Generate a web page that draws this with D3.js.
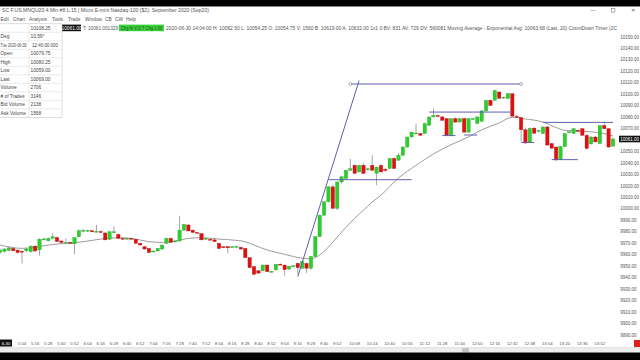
<!DOCTYPE html>
<html>
<head>
<meta charset="utf-8">
<script src="https://cdn.jsdelivr.net/npm/d3@7/dist/d3.min.js"></script>
<style>
    html, body { margin: 0; padding: 0; background: #fff; overflow: hidden; }
    svg { display: block; }
</style>
</head>
<body>
<div id="chart"></div>
<script>
// 4 minute bars, first bar of the window at 4:40
const barStart = '4:40';
const barMinutes = 4;

const opens = [
    9963, 9962, 9963, 9964, 9965.5, 9964, 9963, 9963.5, 9962.75, 9967.5,
    9964.25, 9973.5, 9972.25, 9974.25, 9975, 9972, 9970.5, 9970.75, 9969.5, 9975.75,
    9981, 9981, 9981, 9980, 9980.25, 9979, 9973.5, 9979.5, 9977.75, 9974.25,
    9974, 9974.25, 9973.5, 9970, 9967, 9965.5, 9963, 9963.25, 9965, 9970,
    9974.25, 9971.5, 9972, 9981.5, 9986, 9981.5, 9979.5, 9978.5, 9973.5, 9973.5,
    9973, 9970, 9967, 9967, 9966.5, 9967, 9966.5, 9965.5, 9957.5, 9949.75,
    9946, 9946, 9951, 9945.25, 9946.75, 9951.75, 9951, 9947.5, 9950, 9952.5,
    9948.25, 9952.5, 9948.25, 9958.5, 9975.75, 9994.5, 10006.25, 10019.25, 10000.5, 10023.5,
    10026.5, 10033.75, 10038, 10032.25, 10038, 10034.5, 10038, 10031, 10038, 10034.5,
    10035.25, 10044, 10042.5, 10046.75, 10054, 10062.75, 10065.75, 10065.75, 10065.75, 10073,
    10080.25, 10081.5, 10080.25, 10078.75, 10064.25, 10078.75, 10075.75, 10078.75, 10067, 10078.5,
    10074.5, 10076.5, 10085.5, 10094.75, 10094.75, 10102, 10097, 10096.25, 10100.5, 10080.75,
    10079.75, 10069, 10058, 10070.5, 10068, 10065.75, 10071.5, 10057, 10054, 10043,
    10054.5, 10067, 10065.75, 10068.5, 10070, 10064.25, 10056.75, 10062.75, 10057, 10072.75,
    10070, 10054.75
];
const highs = [
    9965, 9965, 9966, 9967, 9966.5, 9965, 9964, 9966, 9968.5, 9968.5,
    9974.5, 9975, 9975, 9979, 9976, 9972.5, 9974.25, 9971.5, 9975.5, 9982,
    9982.5, 9982, 9981.5, 9986, 9981, 9980, 9981, 9984.5, 9978.5, 9975,
    9975, 9975, 9974, 9970.5, 9967.5, 9966, 9964, 9966, 9969, 9975,
    9975, 9972.5, 9994, 9987, 9986.5, 9982, 9980, 9979, 9975, 9974.5,
    9973.5, 9970.5, 9967.5, 9967.75, 9967.75, 9968, 9967, 9966, 9958, 9950,
    9946.5, 9951.5, 9951.5, 9946, 9952, 9952.5, 9951.5, 9950.5, 9951, 9953,
    9954.5, 9953, 9959, 9976.5, 9995, 10006.5, 10020, 10021, 10024, 10028.5,
    10034, 10043.75, 10039, 10038.5, 10040, 10036, 10047, 10037, 10039, 10036,
    10044.5, 10045, 10049, 10054.5, 10063, 10067.5, 10074.5, 10066.5, 10075, 10080.5,
    10087.5, 10082.5, 10081, 10079.5, 10079, 10080, 10079.5, 10079.5, 10079, 10079.5,
    10080.5, 10086, 10095, 10095.5, 10104, 10102.5, 10098, 10101, 10101, 10082,
    10080.25, 10071, 10071, 10071.5, 10069, 10072, 10072.5, 10057.5, 10054.5, 10055,
    10066, 10068, 10070.5, 10069.5, 10070.5, 10065, 10063.5, 10063.5, 10073, 10076,
    10070.5, 10062.5
];
const lows = [
    9961, 9961, 9962, 9963, 9963, 9961, 9952.5, 9962.5, 9962, 9963,
    9959.25, 9972.5, 9971.5, 9974, 9971, 9970, 9970, 9969.5, 9960.5, 9975,
    9980, 9980, 9979.5, 9979.5, 9979, 9972.5, 9973, 9979, 9974, 9973.5,
    9973.5, 9973.5, 9969.5, 9968, 9964.5, 9961.5, 9962, 9963, 9964.5, 9969.5,
    9970.5, 9970.5, 9971.5, 9981, 9980.5, 9979, 9978.5, 9972.5, 9973, 9972.5,
    9971, 9965, 9966, 9961.25, 9966, 9966.5, 9964.5, 9957, 9948.5, 9942,
    9943.5, 9945.5, 9945, 9944.75, 9946.5, 9951, 9941.75, 9947, 9949.5, 9943,
    9948, 9944, 9947, 9958, 9975.5, 9994, 10005.5, 10000, 9999, 10022,
    10026, 10033, 10030.5, 10032, 10030.75, 10033, 10033.5, 10020.75, 10032, 10032.5,
    10035, 10035, 10042, 10046.5, 10053.5, 10062.5, 10065, 10064, 10065.5, 10072.5,
    10080, 10080.5, 10077, 10063.5, 10063.5, 10075.5, 10075.5, 10066.5, 10066.5, 10078,
    10074, 10076, 10085, 10090, 10094.5, 10096, 10096, 10096, 10080, 10079.5,
    10059, 10057, 10057.5, 10065.5, 10066.5, 10065.5, 10055, 10052.5, 10042, 10042.5,
    10054, 10066, 10065.5, 10067.5, 10064, 10052, 10056, 10058, 10056.5, 10069.5,
    10053.5, 10054.25
];
const closes = [
    9964, 9964, 9965, 9966, 9963.5, 9962, 9962.5, 9965, 9967.5, 9963.25,
    9973.5, 9973.75, 9974.25, 9975.75, 9971.5, 9970.75, 9970.75, 9970, 9975, 9981,
    9981.25, 9981.25, 9980, 9980.5, 9979.5, 9973, 9980, 9980, 9974.25, 9974,
    9974.25, 9974, 9970, 9968.5, 9965, 9962, 9963.25, 9965.5, 9968.5, 9974.25,
    9970.75, 9972, 9981.5, 9986.5, 9980.75, 9979.5, 9979, 9973, 9974.25, 9973,
    9971.5, 9965.5, 9966.75, 9966, 9967, 9967.25, 9965, 9957.5, 9948.75, 9943,
    9944, 9951, 9945.25, 9945.5, 9951.75, 9951.5, 9947, 9950, 9950.5, 9948.75,
    9954, 9948.25, 9958.5, 9975.75, 9994.5, 10006.25, 10019.25, 10000.5, 10023.5, 10028,
    10033.75, 10035, 10031, 10038, 10031, 10035, 10033.75, 10036.5, 10032.25, 10033.5,
    10044, 10035.25, 10046.75, 10054, 10062.75, 10067, 10066.25, 10064.25, 10074.5, 10080.25,
    10081.5, 10081.25, 10077.25, 10064.25, 10078.75, 10075.75, 10078.75, 10067, 10078.75, 10078.75,
    10080.25, 10085.5, 10094.75, 10090.25, 10103.25, 10096.5, 10097.5, 10100.5, 10081, 10080.25,
    10069, 10057.5, 10070.25, 10066, 10068.5, 10071.5, 10055.75, 10053, 10042.75, 10054.5,
    10065.75, 10067.25, 10070, 10068.25, 10064.25, 10052.75, 10062.75, 10058.5, 10072.75, 10070,
    10054, 10061
];

// Moving Average - Exponential (Last, 20)
const emaTimes = ['4:44', '5:04', '5:16', '5:28', '5:44', '6:00', '6:16', '6:32', '6:44', '7:00',
    '7:12', '7:24', '7:36', '7:48', '8:04', '8:16', '8:28', '8:36', '8:48', '9:04',
    '9:20', '9:28', '9:40', '9:48', '10:00', '10:16', '10:24', '10:32', '10:48', '11:04',
    '11:20', '11:36', '11:52', '12:04', '12:20', '12:32', '12:44', '13:00', '13:12', '13:20',
    '13:36', '13:52', '14:04'];
const emaValues = [9968.5, 9965.6, 9966.5, 9968.5, 9970, 9971.4, 9973.7, 9974.9, 9974.3, 9971.4,
    9970.8, 9972, 9974.3, 9974.9, 9973.7, 9972.9, 9971.4, 9968.5, 9964.2, 9960.4,
    9957, 9956.5, 9963, 9971, 9984, 9999, 10006, 10012, 10027, 10038,
    10048, 10056, 10062.8, 10069, 10075, 10080, 10078.5, 10075.8, 10071, 10068.6,
    10067.7, 10066.5, 10063.7];

// hand drawn tools on the chart
const trendFrom = ['9:16', 9941];
const trendTo = ['10:12', 10112];
const levelPrices = [10109, 10025.5, 10084.5, 10064, 10064.5, 10058, 10075.5, 10043];
const levelFrom = ['10:04', '9:44', '11:16', '11:28', '11:48', '12:40', '13:00', '13:08'];
const levelTo = ['12:40', '11:00', '12:32', '11:40', '12:00', '12:52', '14:04', '13:32'];

const priceTicks = [10150, 10140, 10130, 10120, 10110, 10100, 10090, 10080, 10070,
    10050, 10040, 10030, 10020, 10010, 10000, 9990, 9980, 9970, 9960, 9950,
    9940, 9930, 9920, 9910, 9900, 9890];
const lastPrice = 10061;

const timeTicks = ['5:04', '5:16', '5:28', '5:40', '5:52', '6:04', '6:16', '6:28', '6:40', '6:52',
    '7:04', '7:16', '7:28', '7:40', '7:52', '8:04', '8:16', '8:28', '8:40', '8:52',
    '9:04', '9:16', '9:28', '9:40', '9:52', '10:08', '10:24', '10:40', '10:56', '11:12',
    '11:28', '11:44', '12:00', '12:16', '12:32', '12:48', '13:04', '13:20', '13:36', '13:52'];

const tableLabels = ['', 'Deg', 'Tue 2020-06-30', 'Open', 'High', 'Low', 'Last', 'Volume', '# of Trades', 'Bid Volume', 'Ask Volume'];
const tableValues = ['10108.25', '10.59°', '12:40:00.000', '10079.75', '10080.25', '10059.00', '10069.00', '2706', '3146', '2138', '1568'];

const menuItems = ['Edit', 'Chart', 'Analysis', 'Tools', 'Trade', 'Window', 'CB', 'CW', 'Help'];
const menuX = [0.5, 13, 29, 52, 68, 85, 105, 115, 126];

const W = 640, H = 360;
const FONT = '"Liberation Sans", Arial, sans-serif';
const toMin = (s) => { let p = s.split(':'); return +p[0] * 60 + +p[1]; };

const bars = opens.map((o, i) => ({
    t: toMin(barStart) + i * barMinutes,
    o: o, h: highs[i], l: lows[i], c: closes[i]
}));

const svg = d3.select('#chart')
    .append('svg')
    .attr('width', W)
    .attr('height', H)
    .style('font-family', FONT);

svg.append('rect').attr('width', W).attr('height', H).attr('fill', '#fff');

const x = d3.scaleLinear()
    .domain([toMin('5:04'), toMin('14:04')])
    .range([22, 613]);
const y = d3.scaleLinear()
    .domain([9890, 10150])
    .range([335, 37]);

svg.append('clipPath').attr('id', 'plot')
    .append('rect').attr('x', 0).attr('y', 31).attr('width', 618).attr('height', 307);

const plot = svg.append('g').attr('clip-path', 'url(#plot)');

// EMA
plot.append('path')
    .datum(emaTimes.map((t, i) => [toMin(t), emaValues[i]]))
    .attr('fill', 'none')
    .attr('stroke', '#9c9c9c')
    .attr('stroke-width', 1)
    .attr('d', d3.line()
        .x((d) => x(d[0]))
        .y((d) => y(d[1]))
        .curve(d3.curveMonotoneX));

// candles
const green = '#2ccf2c', red = '#e01010';
plot.append('g')
    .selectAll('line')
    .data(bars)
    .join('line')
    .attr('x1', (d) => x(d.t))
    .attr('x2', (d) => x(d.t))
    .attr('y1', (d) => y(d.h))
    .attr('y2', (d) => y(d.l))
    .attr('stroke', '#8e8e9a')
    .attr('stroke-width', 0.8);
plot.append('g')
    .selectAll('rect')
    .data(bars)
    .join('rect')
    .attr('x', (d) => x(d.t) - 1.7)
    .attr('width', 3.4)
    .attr('y', (d) => y(Math.max(d.o, d.c)))
    .attr('height', (d) => Math.max(0.9, Math.abs(y(d.o) - y(d.c))))
    .attr('fill', (d) => d.c >= d.o ? green : red)
    .attr('stroke', (d) => d.c >= d.o ? '#1fa01f' : '#b00000')
    .attr('stroke-width', 0.3);

// drawings
const toolColor = '#5f5fb0';
plot.append('line')
    .attr('x1', x(toMin(trendFrom[0]))).attr('y1', y(trendFrom[1]))
    .attr('x2', x(toMin(trendTo[0]))).attr('y2', y(trendTo[1]))
    .attr('stroke', toolColor).attr('stroke-width', 1);
plot.append('g')
    .selectAll('line')
    .data(levelPrices)
    .join('line')
    .attr('x1', (d, i) => x(toMin(levelFrom[i])))
    .attr('x2', (d, i) => x(toMin(levelTo[i])))
    .attr('y1', (d) => y(d))
    .attr('y2', (d) => y(d))
    .attr('stroke', toolColor)
    .attr('stroke-width', 1);
// handles on the selected line
[levelFrom[0], levelTo[0]].forEach((t) => {
    plot.append('circle')
        .attr('cx', x(toMin(t))).attr('cy', y(levelPrices[0]))
        .attr('r', 1.4).attr('fill', '#fff').attr('stroke', '#777').attr('stroke-width', 0.6);
});

// price axis
const axisG = svg.append('g');
axisG.append('rect').attr('x', 618).attr('y', 31).attr('width', 22).attr('height', 307).attr('fill', '#fff');
axisG.selectAll('text')
    .data(priceTicks)
    .join('text')
    .attr('x', 620.3)
    .attr('y', (d) => y(d))
    .attr('dy', '0.35em')
    .attr('font-size', 4.5)
    .attr('fill', '#555')
    .text((d) => d.toFixed(2));
axisG.append('rect')
    .attr('x', 619).attr('y', y(lastPrice) - 3.3).attr('width', 21).attr('height', 6.6)
    .attr('fill', '#111');
axisG.append('text')
    .attr('x', 620.3).attr('y', y(lastPrice)).attr('dy', '0.35em')
    .attr('font-size', 4.5).attr('fill', '#fff')
    .text(lastPrice.toFixed(2));

// time axis
const timeG = svg.append('g');
timeG.selectAll('text')
    .data(timeTicks)
    .join('text')
    .attr('x', (d) => x(toMin(d)))
    .attr('y', 343)
    .attr('dy', '0.35em')
    .attr('text-anchor', 'middle')
    .attr('font-size', 4.3)
    .attr('fill', '#555')
    .text((d) => d);
timeG.append('rect').attr('x', 0).attr('y', 339.5).attr('width', 12).attr('height', 7).attr('fill', '#111');
timeG.append('text').attr('x', 6).attr('y', 343).attr('dy', '0.35em').attr('text-anchor', 'middle')
    .attr('font-size', 4.3).attr('fill', '#fff').text('6-30');
timeG.append('rect').attr('x', 634).attr('y', 340).attr('width', 6).attr('height', 7).attr('fill', '#e02020');

// scroll bar + letterbox
svg.append('rect').attr('x', 0).attr('y', 347.5).attr('width', W).attr('height', 5).attr('fill', '#ececec');
svg.append('line').attr('x1', 0).attr('x2', W).attr('y1', 347.5).attr('y2', 347.5).attr('stroke', '#d0d0d0').attr('stroke-width', 0.5);
svg.append('rect').attr('x', 462).attr('y', 348).attr('width', 7).attr('height', 4.5).attr('fill', '#c4c4c4');
svg.append('rect').attr('x', 0).attr('y', 352.5).attr('width', W).attr('height', 7.5).attr('fill', '#000');
svg.append('rect').attr('x', 0).attr('y', 0).attr('width', W).attr('height', 6.5).attr('fill', '#000');

// title / menu / info line
const head = svg.append('g').attr('fill', '#555').attr('font-size', 4.8);
head.append('text').attr('x', 2).attr('y', 10.5).attr('dy', '0.35em')
    .attr('textLength', 207).attr('lengthAdjust', 'spacingAndGlyphs')
    .text('SC F.US.MNQU20  4 Min  #8  L:15 | Micro E-mini Nasdaq-100 ($2): September 2020 (Sep20)');
head.append('text').attr('x', 593).attr('y', 10.5).attr('dy', '0.35em').attr('text-anchor', 'middle').attr('font-size', 5).text('—');
head.append('rect').attr('x', 611.5).attr('y', 8.7).attr('width', 3.4).attr('height', 3.4).attr('fill', 'none').attr('stroke', '#666').attr('stroke-width', 0.5);
head.append('text').attr('x', 633).attr('y', 10.5).attr('dy', '0.35em').attr('text-anchor', 'middle').attr('font-size', 5).text('✕');
head.selectAll('.menu')
    .data(menuItems)
    .join('text')
    .attr('x', (d, i) => menuX[i])
    .attr('y', 19.5).attr('dy', '0.35em')
    .text((d) => d);

head.append('rect').attr('x', 62).attr('y', 24.6).attr('width', 19).attr('height', 6.6).attr('fill', '#111');
head.append('text').attr('x', 71.5).attr('y', 28).attr('dy', '0.35em').attr('text-anchor', 'middle').attr('fill', '#fff').text('10061.00');
head.append('text').attr('x', 83).attr('y', 28).attr('dy', '0.35em')
    .attr('textLength', 35).attr('lengthAdjust', 'spacingAndGlyphs').text('T: 10061.001329');
head.append('rect').attr('x', 119).attr('y', 24.6).attr('width', 45).attr('height', 6.6).attr('fill', '#3ad23a');
head.append('text').attr('x', 121).attr('y', 28).attr('dy', '0.35em').attr('fill', '#1d4d1d')
    .attr('textLength', 41).attr('lengthAdjust', 'spacingAndGlyphs').text('Chg % V.O.T Chg 1.00');
head.append('text').attr('x', 166).attr('y', 28).attr('dy', '0.35em')
    .attr('textLength', 451).attr('lengthAdjust', 'spacingAndGlyphs')
    .text('2020-06-30 14:04:00  H: 10062.50  L: 10054.25  O: 10054.75  V: 1560  B: 10619.00  A: 10632.00  1x1 0  BV: 831  AV: 729  DV: 560081  Moving Average - Exponential   Avg: 10063.68   (Last, 20)   CountDown Timer   (2C');

// chart values window (top left)
const tbl = svg.append('g').attr('font-size', 4.8).attr('fill', '#444');
const rowH = 8.5, row0 = 23.8;
tbl.append('rect').attr('x', -1).attr('y', row0).attr('width', 63).attr('height', rowH * tableLabels.length)
    .attr('fill', '#fff').attr('stroke', '#bdbdbd').attr('stroke-width', 0.5);
tableLabels.forEach((lab, i) => {
    let yy = row0 + i * rowH;
    if (i > 0) {
        tbl.append('line').attr('x1', 0).attr('x2', 62).attr('y1', yy).attr('y2', yy)
            .attr('stroke', '#d6d6d6').attr('stroke-width', 0.5);
    }
    let t = tbl.append('text').attr('x', 0.6).attr('y', yy + rowH / 2).attr('dy', '0.35em').text(lab);
    let v = tbl.append('text').attr('x', 30.5).attr('y', yy + rowH / 2).attr('dy', '0.35em').text(tableValues[i]);
    // the date/time row spans both columns
    if (i == 2) {
        t.attr('textLength', 26).attr('lengthAdjust', 'spacingAndGlyphs');
        v.attr('x', 32).attr('textLength', 26).attr('lengthAdjust', 'spacingAndGlyphs');
    }
});
tbl.append('line').attr('x1', 29).attr('x2', 29).attr('y1', row0).attr('y2', row0 + rowH * 2)
    .attr('stroke', '#d6d6d6').attr('stroke-width', 0.5);
tbl.append('line').attr('x1', 29).attr('x2', 29).attr('y1', row0 + rowH * 3).attr('y2', row0 + rowH * tableLabels.length)
    .attr('stroke', '#d6d6d6').attr('stroke-width', 0.5);
</script>
</body>
</html>
